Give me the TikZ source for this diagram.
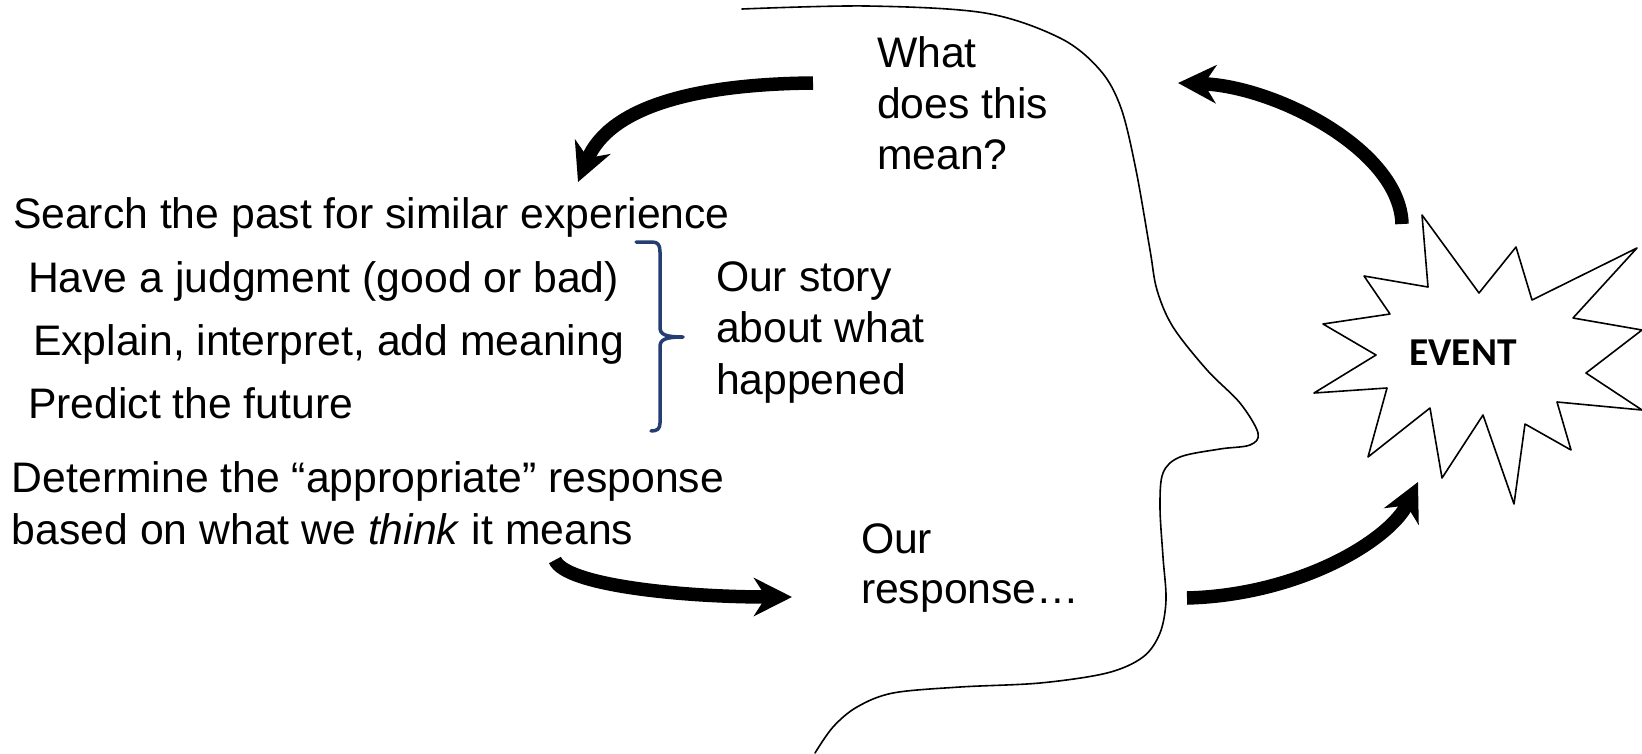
\documentclass[tikz,border=0pt]{standalone}
\usepackage{fontspec}
\setmainfont{Liberation Sans}
\newfontfamily\evfont{Carlito}
\usetikzlibrary{arrows.meta}
\definecolor{bracecol}{RGB}{36,62,115}
\begin{document}
\begin{tikzpicture}[x=1pt,y=-1pt,
  txt/.style={anchor=base west, inner sep=0pt, outer sep=0pt, font=\fontsize{42.7}{51}\selectfont},
  bigarrow/.style={line width=13.5pt, -{Stealth[length=38pt,width=38pt,inset=12pt]}},
  outline/.style={line width=1.6pt, line join=round, line cap=round}]
\useasboundingbox (0,0) rectangle (1642,753);
\fill[white] (0,0) rectangle (1642,753);

% head profile
\draw[outline] plot[smooth, tension=0.55] coordinates {
 (742,9) (867,6) (985,13) (1060,38) (1100,70) (1121,108) (1136,170)
 (1150,250) (1157,290) (1173,327) (1207,370) (1240,403) (1258,433) (1250,445)
 (1220,449) (1180,457) (1163,473) (1160,507) (1163,557) (1166,600) (1160,633)
 (1143,657) (1107,673) (1040,683) (960,687) (893,693) (857,707) (833,727) (815,753)};

% star
\draw[outline, fill=white] (1422,215) -- (1479,293) -- (1516,247) -- (1532,300)
 -- (1637,248) -- (1573,318) -- (1642,330) -- (1586,373) -- (1642,410)
 -- (1557,402) -- (1571,450) -- (1525,424) -- (1514,504) -- (1483,415)
 -- (1442,478) -- (1430,408) -- (1368,457) -- (1387,388) -- (1314,393)
 -- (1376,355) -- (1323,324) -- (1390,314) -- (1364,276) -- (1428,287) -- cycle;
\node[anchor=base, inner sep=0pt, font=\evfont\bfseries\fontsize{39.5}{44}\selectfont] (event) at (1463,365) {EVENT};

% texts
\node[txt] (what1) at (877,67) {What};
\node[txt] (what2) at (877,118) {does this};
\node[txt] (what3) at (877,169) {mean?};

\node[txt] (l1) at (13,228) {Search the past for similar experience};
\node[txt] (l2) at (28,292) {Have a judgment (good or bad)};
\node[txt] (l3) at (33,355) {Explain, interpret, add meaning};
\node[txt] (l4) at (28,418) {Predict the future};
\node[txt] (l5) at (12,492) {Determine the “appropriate” response};
\node[txt] (l6) at (12,544) {based on what we \textit{think} it means};

\node[txt] (s1) at (716,291) {Our story};
\node[txt] (s2) at (716,342) {about what};
\node[txt] (s3) at (716,394) {happened};

\node[txt] (r1) at (861,553) {Our};
\node[txt] (r2) at (861,603) {response…};

% brace
\draw[bracecol, line width=3.5pt, line cap=round, line join=round]
 (636,242) -- (652,242) .. controls (658,242) and (660,245) .. (660,252)
 -- (660,327) .. controls (660,334) and (664,337) .. (683,337)
 .. controls (664,337) and (660,340) .. (660,347)
 -- (660,423) .. controls (660,429) and (657,431) .. (651,431);

% arrows
\coordinate (a1s) at (813,83);
\coordinate (a1e) at (578,182);
\coordinate (a2s) at (1402,224);
\coordinate (a2e) at (1178,83);
\coordinate (a3s) at (555,560);
\coordinate (a3e) at (792,597);
\coordinate (a4s) at (1187,598);
\coordinate (a4e) at (1418,482);
\draw[bigarrow] (a1s) .. controls (700,84) and (610,105) .. (a1e);
\draw[bigarrow] (a2s) .. controls (1400,150) and (1275,86) .. (a2e);
\draw[bigarrow] (a3s) .. controls (565,585) and (680,597) .. (a3e);
\draw[bigarrow] (a4s) .. controls (1300,595) and (1390,540) .. (a4e);
\end{tikzpicture}
\end{document}
